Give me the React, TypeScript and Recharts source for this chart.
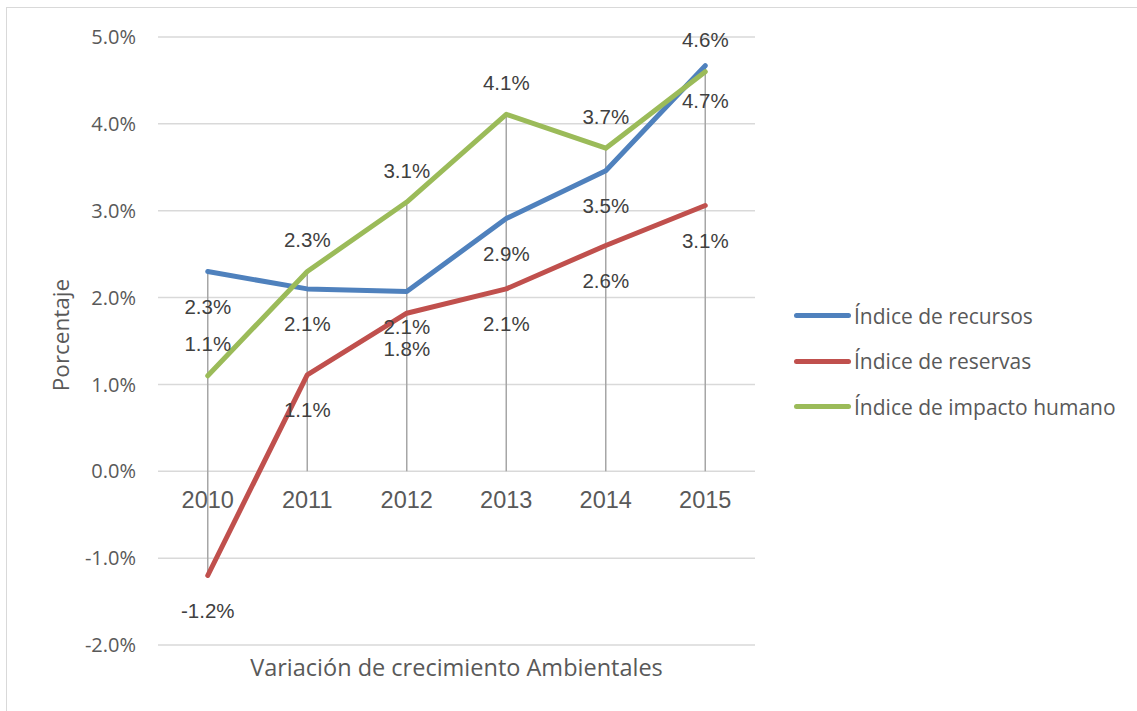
import React from 'react';
import {
  ComposedChart,
  Line,
  Bar,
  XAxis,
  YAxis,
  CartesianGrid,
  ReferenceDot,
  Legend,
  LabelList,
  Label,
} from 'recharts';

const categories = ['2010', '2011', '2012', '2013', '2014', '2015'];
const recursos = [2.3, 2.1, 2.07, 2.91, 3.46, 4.67];
const reservas = [-1.2, 1.11, 1.82, 2.1, 2.6, 3.06];
const impacto = [1.1, 2.3, 3.1, 4.11, 3.72, 4.6];
const yTicks = [-2, -1, 0, 1, 2, 3, 4, 5];

const series = [
  { key: 'recursos', name: 'Índice de recursos', color: '#4f81bd', labelDy: 35 },
  { key: 'reservas', name: 'Índice de reservas', color: '#c0504d', labelDy: 35 },
  { key: 'impacto', name: 'Índice de impacto humano', color: '#9bbb59', labelDy: -32 },
];

const data = categories.map((year, i) => {
  const vals = [recursos[i], reservas[i], impacto[i]];
  return {
    year,
    recursos: recursos[i],
    reservas: reservas[i],
    impacto: impacto[i],
    drop: [Math.min(0, ...vals), Math.max(0, ...vals)],
  };
});

const LABEL_FONT = '"Liberation Sans", Arial, sans-serif';
const UI_FONT = '"Open Sans", "Noto Sans", sans-serif';

const makeLabel = (dy: number) => (props: any) => {
  const vb = props.viewBox || {};
  const x = props.x ?? vb.x;
  const y = props.y ?? vb.y;
  if (x == null || y == null) return null;
  return (
    <text
      x={x}
      y={y + dy}
      textAnchor="middle"
      dominantBaseline="central"
      fontFamily={LABEL_FONT}
      fontSize={20.5}
      fill="#404040"
    >
      {Number(props.value).toFixed(1)}%
    </text>
  );
};

const LegendContent = () => (
  <div style={{ fontFamily: UI_FONT, fontSize: 21, color: '#595959' }}>
    {series.map((s) => (
      <div key={s.key} style={{ display: 'flex', alignItems: 'center', height: 45.5 }}>
        <div
          style={{
            width: 57,
            height: 5,
            borderRadius: 3,
            background: s.color,
            marginRight: 3,
          }}
        />
        <span style={{ whiteSpace: 'nowrap' }}>{s.name}</span>
      </div>
    ))}
  </div>
);

export default function App() {
  return (
    <div
      style={{
        position: 'absolute',
        left: 0,
        top: 0,
        width: 1137,
        height: 711,
        background: '#fff',
        overflow: 'hidden',
      }}
    >
      <div
        style={{
          position: 'absolute',
          left: 6,
          top: 7,
          width: 1200,
          height: 800,
          borderLeft: '1.5px solid #d9d9d9',
          borderTop: '1.5px solid #d9d9d9',
        }}
      />
      <ComposedChart
        width={1137}
        height={711}
        data={data}
        margin={{ top: 37, right: 382, bottom: 26, left: 0 }}
      >
        <CartesianGrid vertical={false} stroke="#d9d9d9" strokeWidth={1.5} />
        <XAxis
          dataKey="year"
          type="category"
          tick={false}
          tickLine={false}
          axisLine={false}
          height={40}
        >
          <Label
            content={(props: any) => {
              const vb = props.viewBox;
              return (
                <text
                  x={vb.x + vb.width / 2}
                  y={667}
                  textAnchor="middle"
                  dominantBaseline="central"
                  fontFamily={UI_FONT}
                  fontSize={23.5}
                  fill="#595959"
                >
                  Variación de crecimiento Ambientales
                </text>
              );
            }}
          />
        </XAxis>
        <YAxis
          width={158}
          domain={[-2, 5]}
          ticks={yTicks}
          interval={0}
          axisLine={false}
          tickLine={false}
          tickSize={0}
          tickMargin={22}
          tick={{ fill: '#595959', fontSize: 20, fontFamily: UI_FONT }}
          tickFormatter={(v: number) => `${v.toFixed(1)}%`}
        >
          <Label
            content={(props: any) => {
              const vb = props.viewBox;
              const cx = vb.x + 60;
              const cy = vb.y + vb.height / 2 - 6;
              return (
                <text
                  x={cx}
                  y={cy}
                  transform={`rotate(-90, ${cx}, ${cy})`}
                  textAnchor="middle"
                  dominantBaseline="central"
                  fontFamily={UI_FONT}
                  fontSize={22.5}
                  fill="#595959"
                >
                  Porcentaje
                </text>
              );
            }}
          />
        </YAxis>
        <Bar dataKey="drop" barSize={1.5} fill="#a6a6a6" isAnimationActive={false} legendType="none" />
        {series.map((s) => (
          <Line
            key={s.key}
            type="linear"
            dataKey={s.key}
            name={s.name}
            stroke={s.color}
            strokeWidth={5}
            strokeLinecap="round"
            strokeLinejoin="round"
            dot={false}
            activeDot={false}
            isAnimationActive={false}
          >
            <LabelList dataKey={s.key} content={makeLabel(s.labelDy)} />
          </Line>
        ))}
        {categories.map((c) => (
          <ReferenceDot
            key={c}
            x={c}
            y={0}
            r={1}
            fill="none"
            stroke="none"
            label={(props: any) => {
              const vb = props.viewBox;
              return (
                <text
                  x={vb.x + vb.width / 2}
                  y={vb.y + vb.height / 2 + 29}
                  textAnchor="middle"
                  dominantBaseline="central"
                  fontFamily={LABEL_FONT}
                  fontSize={23.5}
                  fill="#595959"
                >
                  {c}
                </text>
              );
            }}
          />
        ))}
        <Legend
          layout="vertical"
          align="center"
          verticalAlign="middle"
          content={<LegendContent />}
          wrapperStyle={{ left: 794, top: 293, width: 340, right: 'auto', bottom: 'auto' }}
        />
      </ComposedChart>
    </div>
  );
}
